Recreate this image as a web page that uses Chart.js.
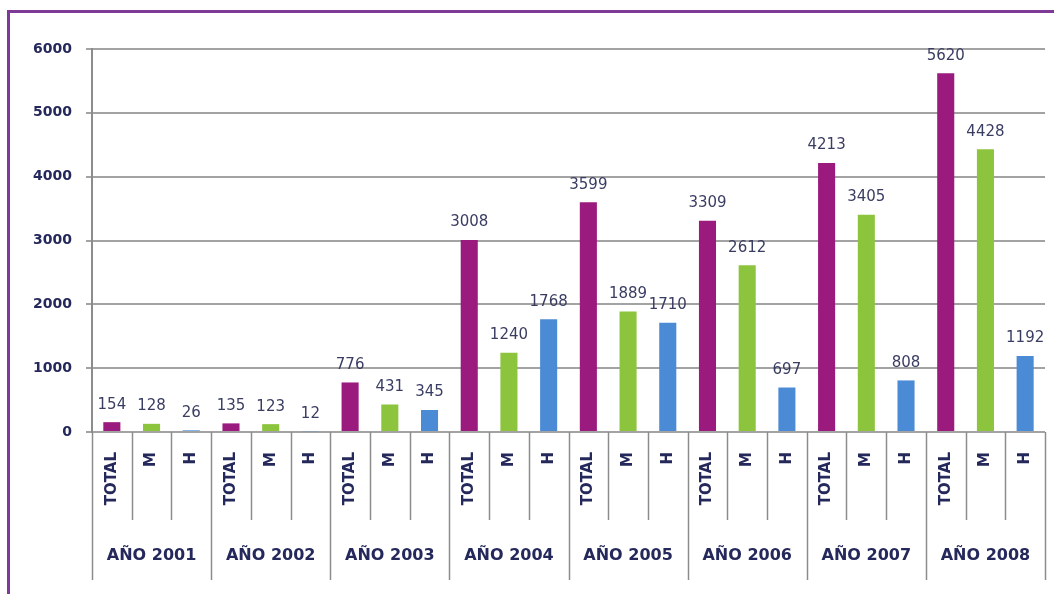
<!DOCTYPE html>
<html>
<head>
<meta charset="utf-8">
<script src="https://cdn.jsdelivr.net/npm/chart.js@4/dist/chart.umd.min.js"></script>
<style>
  html, body { margin: 0; padding: 0; background: #ffffff; }
  #wrap { position: relative; width: 1054px; height: 594px; overflow: hidden; }
  #frame { position: absolute; left: 7px; top: 10px; width: 1060px; height: 600px;
           border-left: 3px solid #7f3a97; border-top: 3px solid #7f3a97; box-sizing: border-box; }
  canvas { position: absolute; left: 0; top: 0; }
</style>
</head>
<body>
<div id="wrap">
  <div id="frame"></div>
  <canvas id="c" width="1054" height="594"></canvas>
</div>
<script>
const years = ['AÑO 2001', 'AÑO 2002', 'AÑO 2003', 'AÑO 2004', 'AÑO 2005', 'AÑO 2006', 'AÑO 2007', 'AÑO 2008'];
const subLabels = ['TOTAL', 'M', 'H'];
const totalValues = [154, 135, 776, 3008, 3599, 3309, 4213, 5620];
const mValues = [128, 123, 431, 1240, 1889, 2612, 3405, 4428];
const hValues = [26, 12, 345, 1768, 1710, 697, 808, 1192];
const yTicks = [0, 1000, 2000, 3000, 4000, 5000, 6000];

const colors = ['#9a1a7e', '#8cc43e', '#4b8bd5'];
const textColor = '#25285a';

const labels = [], values = [], barColors = [];
years.forEach((y, i) => {
  [totalValues[i], mValues[i], hValues[i]].forEach((v, j) => {
    labels.push(subLabels[j]);
    values.push(v);
    barColors.push(colors[j]);
  });
});

const decor = {
  id: 'decor',
  afterDatasetsDraw(chart) {
    const ctx = chart.ctx;
    const xs = chart.scales.x;
    const area = chart.chartArea;
    const meta = chart.getDatasetMeta(0);
    ctx.save();
    // value labels
    ctx.font = '15px "DejaVu Sans"';
    ctx.fillStyle = '#3a3d62';
    ctx.textAlign = 'center';
    ctx.textBaseline = 'bottom';
    meta.data.forEach((bar, i) => {
      ctx.fillText(String(values[i]), bar.x, bar.y - 10);
    });
    // separators
    ctx.strokeStyle = '#8c8c8c';
    ctx.lineWidth = 1.5;
    const n = labels.length;
    for (let i = 0; i <= n; i++) {
      let x;
      if (i === 0) x = area.left;
      else if (i === n) x = area.right;
      else x = (xs.getPixelForTick(i - 1) + xs.getPixelForTick(i)) / 2;
      const yEnd = (i % 3 === 0) ? 580 : 520;
      ctx.beginPath();
      ctx.moveTo(Math.round(x) + 0.5, area.bottom);
      ctx.lineTo(Math.round(x) + 0.5, yEnd);
      ctx.stroke();
    }
    // year labels
    ctx.font = 'bold 16px "DejaVu Sans"';
    ctx.fillStyle = textColor;
    ctx.textBaseline = 'middle';
    years.forEach((y, g) => {
      const cx = xs.getPixelForTick(g * 3 + 1);
      ctx.fillText(y, cx, 556);
    });
    ctx.restore();
  }
};

new Chart(document.getElementById('c'), {
  type: 'bar',
  data: {
    labels: labels,
    datasets: [{
      data: values,
      backgroundColor: barColors,
      borderWidth: 0,
      categoryPercentage: 1.0,
      barPercentage: 0.43
    }]
  },
  options: {
    responsive: false,
    animation: false,
    devicePixelRatio: 1,
    layout: { padding: { left: 0, top: 49, right: 9, bottom: 0 } },
    plugins: { legend: { display: false }, tooltip: { enabled: false } },
    scales: {
      x: {
        afterFit(scale) { scale.height = 162; scale.paddingLeft = 0; scale.paddingRight = 0; },
        grid: { display: false, drawTicks: false },
        border: { display: false },
        ticks: {
          autoSkip: false,
          maxRotation: 90,
          minRotation: 90,
          padding: 20,
          color: textColor,
          font: { family: 'DejaVu Sans', weight: 'bold', size: 15 }
        }
      },
      y: {
        min: 0,
        max: 6000,
        afterFit(scale) { scale.width = 92; },
        afterBuildTicks(scale) { scale.ticks = yTicks.map(v => ({ value: v })); },
        grid: { color: '#a3a3a3', lineWidth: 2, tickLength: 6, drawTicks: true },
        border: { display: true, color: '#8c8c8c', width: 2 },
        ticks: {
          padding: 14,
          color: textColor,
          callback: (v) => String(v),
          font: { family: 'DejaVu Sans', weight: 'bold', size: 14 }
        }
      }
    }
  },
  plugins: [decor]
});
</script>
</body>
</html>
